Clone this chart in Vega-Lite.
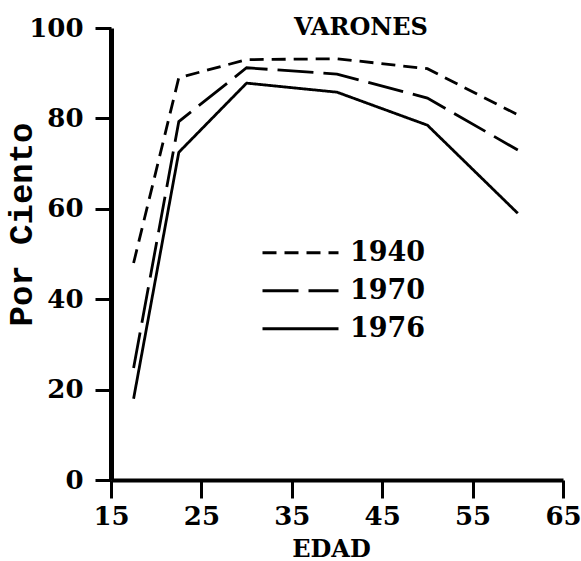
{
  "$schema": "https://vega.github.io/schema/vega-lite/v6.json",
  "width": 452,
  "height": 452,
  "autosize": {"type": "none"},
  "padding": {"left": 111, "top": 28, "right": 18, "bottom": 81},
  "background": "white",
  "title": {
    "text": "VARONES",
    "anchor": "middle",
    "frame": "group",
    "dx": 24,
    "dy": 44,
    "offset": 0,
    "baseline": "alphabetic",
    "font": "DejaVu Serif",
    "fontSize": 24,
    "fontWeight": "bold",
    "color": "black"
  },
  "data": {
    "values": [
      {"year": "1940", "age": 17.5, "pct": 48},
      {"year": "1940", "age": 22.5, "pct": 89},
      {"year": "1940", "age": 30, "pct": 93},
      {"year": "1940", "age": 40, "pct": 93.2},
      {"year": "1940", "age": 50, "pct": 91},
      {"year": "1940", "age": 60, "pct": 80.8},
      {"year": "1970", "age": 17.5, "pct": 24.8},
      {"year": "1970", "age": 22.5, "pct": 79.3},
      {"year": "1970", "age": 30, "pct": 91.2},
      {"year": "1970", "age": 40, "pct": 89.8},
      {"year": "1970", "age": 50, "pct": 84.5},
      {"year": "1970", "age": 60, "pct": 73},
      {"year": "1976", "age": 17.5, "pct": 18},
      {"year": "1976", "age": 22.5, "pct": 72.5},
      {"year": "1976", "age": 30, "pct": 87.8},
      {"year": "1976", "age": 40, "pct": 85.8},
      {"year": "1976", "age": 50, "pct": 78.5},
      {"year": "1976", "age": 60, "pct": 59}
    ]
  },
  "mark": {"type": "line", "color": "black", "strokeWidth": 2.8, "clip": false},
  "encoding": {
    "x": {
      "field": "age",
      "type": "quantitative",
      "scale": {"domain": [15, 65], "nice": false, "zero": false},
      "axis": {
        "values": [15, 25, 35, 45, 55, 65],
        "grid": false,
        "domainColor": "black",
        "domainWidth": 4,
        "tickColor": "black",
        "tickWidth": 3,
        "tickSize": 18,
        "labelPadding": 5,
        "labelFont": "DejaVu Serif",
        "labelFontWeight": "bold",
        "labelFontSize": 26,
        "labelColor": "black",
        "labelFlush": false,
        "labelOverlap": false,
        "title": "EDAD",
        "titleFont": "DejaVu Serif",
        "titleFontWeight": "bold",
        "titleFontSize": 24,
        "titleColor": "black",
        "titleX": 220,
        "titleY": 76,
        "titleBaseline": "alphabetic",
        "titleAlign": "center"
      }
    },
    "y": {
      "field": "pct",
      "type": "quantitative",
      "scale": {"domain": [0, 100], "nice": false},
      "axis": {
        "values": [0, 20, 40, 60, 80, 100],
        "grid": false,
        "domainColor": "black",
        "domainWidth": 5,
        "tickColor": "black",
        "tickWidth": 3,
        "tickSize": 16,
        "labelPadding": 12,
        "labelFont": "DejaVu Serif",
        "labelFontWeight": "bold",
        "labelFontSize": 26,
        "labelColor": "black",
        "labelFlush": false,
        "labelOverlap": false,
        "title": "Por Ciento",
        "titleFont": "Liberation Mono",
        "titleFontWeight": "bold",
        "titleFontSize": 34,
        "titleColor": "black",
        "titleAngle": 270,
        "titleX": -80,
        "titleY": 196,
        "titleBaseline": "alphabetic",
        "titleAlign": "center"
      }
    },
    "strokeDash": {
      "field": "year",
      "type": "nominal",
      "scale": {"domain": ["1940", "1970", "1976"], "range": [[14, 8], [36, 10], [1, 0]]},
      "legend": {
        "title": null,
        "orient": "none",
        "legendX": 150,
        "legendY": 206,
        "padding": 0,
        "symbolType": "stroke",
        "symbolSize": 5776,
        "symbolStrokeWidth": 2.8,
        "symbolStrokeColor": "black",
        "labelFont": "DejaVu Serif",
        "labelFontWeight": "bold",
        "labelFontSize": 27,
        "labelColor": "black",
        "labelOffset": 10,
        "clipHeight": 37.5,
        "rowPadding": 0
      }
    }
  },
  "config": {"view": {"stroke": null}}
}
